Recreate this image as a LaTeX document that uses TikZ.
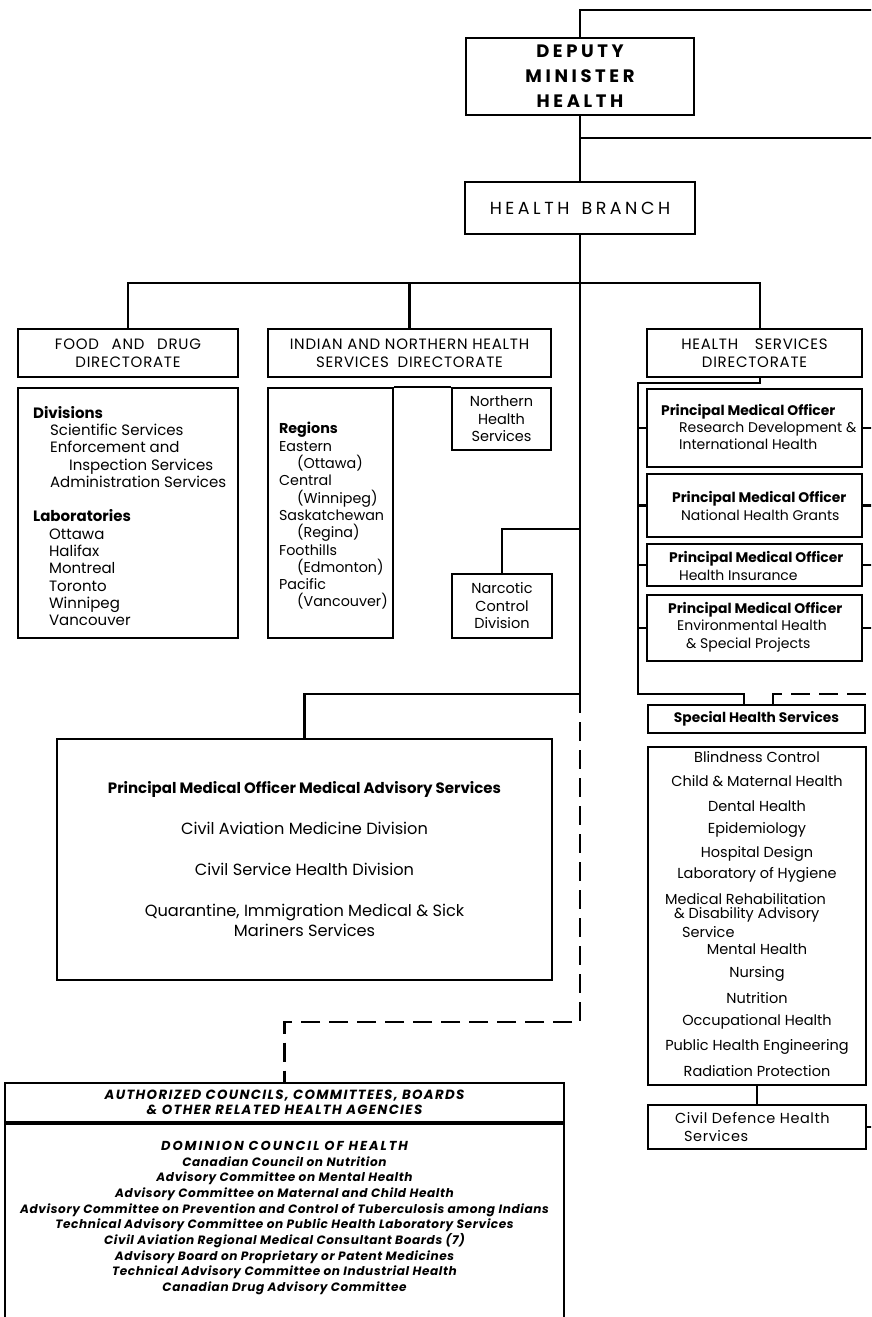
\documentclass[tikz,border=0pt]{standalone}
\usepackage{fontspec}
\setmainfont{Poppins}

\begin{document}
\begin{tikzpicture}[x=1pt,y=-1pt,line width=2.2pt,
  box/.style={draw,rectangle,inner sep=0pt,align=center},
  hdr/.style={box,font=\fontsize{15}{18}\selectfont\addfontfeature{LetterSpace=5}},
  txt/.style={inner sep=0pt,anchor=west,align=left,font=\fontsize{15}{17.3}\selectfont},
  pmotxt/.style={txt,font=\fontsize{14}{17.3}\selectfont},
  item/.style={inner sep=0pt,font=\fontsize{14.5}{17}\selectfont},
  dashline/.style={dash pattern=on 19pt off 9pt}]
  \path[use as bounding box,fill=white] (0,0) rectangle (871,1317);
  \clip (0,0) rectangle (871,1317);

  \node[box,minimum width=228,minimum height=77,font=\fontsize{18}{25}\selectfont\bfseries\addfontfeature{LetterSpace=20}] (dm) at (580,76.5) {DEPUTY\\MINISTER\\HEALTH};
  \node[box,minimum width=230,minimum height=52,font=\fontsize{17.5}{20}\selectfont\addfontfeature{LetterSpace=20}] (hb) at (580,208) {HEALTH\hspace{4pt} BRANCH};

  \node[hdr,minimum width=220,minimum height=48] (fd) at (128,353) {FOOD\hspace{8pt} AND\hspace{8pt} DRUG\\DIRECTORATE};
  \node[hdr,minimum width=283,minimum height=48] (inhs) at (409.5,353) {INDIAN AND NORTHERN HEALTH\\SERVICES\hspace{4pt} DIRECTORATE};
  \node[hdr,minimum width=215,minimum height=48] (hsd) at (754.5,353) {HEALTH\hspace{12pt} SERVICES\\DIRECTORATE};

  \node[box,minimum width=220,minimum height=250] (fdlist) at (128,513) {};
  \node[txt] (fdtxt) at (32,516)
    {\textbf{Divisions}\\\hspace*{17pt}Scientific Services\\\hspace*{17pt}Enforcement and\\\hspace*{36pt}Inspection Services\\\hspace*{17pt}Administration Services\\[17.3pt]
     \textbf{Laboratories}\\\hspace*{16pt}Ottawa\\\hspace*{16pt}Halifax\\\hspace*{16pt}Montreal\\\hspace*{16pt}Toronto\\\hspace*{16pt}Winnipeg\\\hspace*{16pt}Vancouver};
  \node[box,minimum width=125,minimum height=250] (regions) at (330.5,513) {};
  \node[txt,font=\fontsize{14.3}{17.3}\selectfont] (regtxt) at (278,516)
    {\textbf{Regions}\\Eastern\\\hspace*{18pt}(Ottawa)\\Central\\\hspace*{18pt}(Winnipeg)\\Saskatchewan\\\hspace*{18pt}(Regina)\\Foothills\\\hspace*{18pt}(Edmonton)\\Pacific\\\hspace*{18pt}(Vancouver)};
  \node[box,minimum width=99,minimum height=62,font=\fontsize{14.5}{17.5}\selectfont] (nhs) at (501.5,419) {Northern\\Health\\Services};
  \node[box,minimum width=100,minimum height=64,font=\fontsize{14.5}{17.5}\selectfont] (ncd) at (502,606) {Narcotic\\Control\\Division};

  \node[box,minimum width=215,minimum height=78] (pmo1) at (754.5,428) {};
  \node[box,minimum width=215,minimum height=63] (pmo2) at (754.5,505.5) {};
  \node[box,minimum width=215,minimum height=42] (pmo3) at (754.5,565) {};
  \node[box,minimum width=215,minimum height=66] (pmo4) at (754.5,628) {};
  \newcommand{\pmo}{{\fontsize{13.9}{17.3}\selectfont\bfseries Principal Medical Officer}}
  \node[pmotxt] (pmotxt1) at (660,427) {\pmo\\\hspace*{18pt}Research Development \&\\\hspace*{18pt}International Health};
  \node[pmotxt] (pmotxt2) at (671,506) {\pmo\\\hspace*{9pt}National Health Grants};
  \node[pmotxt] (pmotxt3) at (668,566) {\pmo\\\hspace*{10pt}Health Insurance};
  \node[pmotxt] (pmotxt4) at (667,627) {\pmo\\\hspace*{9pt}Environmental Health\\\hspace*{18pt}\& Special Projects};

  \node[box,minimum width=217,minimum height=28,font=\fontsize{13.8}{17}\selectfont\bfseries] (shs) at (756.5,719) {Special Health Services};
  \node[box,minimum width=218,minimum height=338] (shslist) at (757,916) {};
  \foreach \t/\yy [count=\i] in {Blindness Control/757,Child \& Maternal Health/781,Dental Health/806,Epidemiology/830,Hospital Design/854,Laboratory of Hygiene/875,Mental Health/949,Nursing/974,Nutrition/998,Occupational Health/1022,Public Health Engineering/1047,Radiation Protection/1071}
    \node[item] (sh\i) at (757,\yy) {\t};
  \node[item,anchor=west] (rehab1) at (664,899) {Medical Rehabilitation};
  \node[item,anchor=west] (rehab2) at (673,915) {\& Disability Advisory};
  \node[item,anchor=west] (rehab3) at (681,932) {Service};
  \node[box,minimum width=218,minimum height=44] (cdhs) at (757,1127) {};
  \node[pmotxt,font=\fontsize{14.5}{18}\selectfont\addfontfeature{LetterSpace=4}] (cdtxt) at (674,1127) {Civil Defence Health\\\hspace*{9pt}Services};

  \node[box,minimum width=495,minimum height=241,font=\fontsize{16.2}{20}\selectfont] (mas) at (304.5,859.5)
    {{\fontsize{15}{20}\selectfont\bfseries Principal Medical Officer Medical Advisory Services}\\[21pt]Civil Aviation Medicine Division\\[21pt]Civil Service Health Division\\[21pt]Quarantine, Immigration Medical \& Sick\\Mariners Services};

  \node[box,minimum width=559,minimum height=39,font=\fontsize{13.3}{15}\selectfont\bfseries\itshape\addfontfeature{LetterSpace=10}] (authh) at (284.5,1102.5)
    {AUTHORIZED COUNCILS, COMMITTEES, BOARDS\\\& OTHER RELATED HEALTH AGENCIES};
  \node[box,minimum width=559,minimum height=220,anchor=north] (authl) at (authh.south) {};
  \node[align=center,inner sep=0pt,font=\fontsize{12.1}{15.7}\selectfont\bfseries\itshape\addfontfeature{LetterSpace=5}] (authtxt) at (284.5,1218)
    {{\fontsize{13}{15.7}\selectfont\addfontfeature{LetterSpace=15}DOMINION COUNCIL OF HEALTH}\\
     Canadian Council on Nutrition\\
     Advisory Committee on Mental Health\\
     Advisory Committee on Maternal and Child Health\\
     Advisory Committee on Prevention and Control of Tuberculosis among Indians\\
     Technical Advisory Committee on Public Health Laboratory Services\\
     Civil Aviation Regional Medical Consultant Boards (7)\\
     Advisory Board on Proprietary or Patent Medicines\\
     Technical Advisory Committee on Industrial Health\\
     Canadian Drug Advisory Committee};

  \coordinate (topR) at (875,10);
  \coordinate (midR) at (875,138);
  \coordinate (bar) at (580,283);
  \coordinate (narc) at (580,529);
  \coordinate (advis) at (580,694);
  \coordinate (dashend) at (580,1022);
  \coordinate (spine) at (638,383);
  \coordinate (hsbot) at (638,694);
  \coordinate (hsdT) at ([xshift=5.5pt]hsd.north);
  \coordinate (hsdB) at ([xshift=5.5pt]hsd.south);
  \coordinate (shsL) at ([xshift=-12.5pt]shs.north);
  \coordinate (shsR) at ([xshift=16.5pt]shs.north);
  \coordinate (rdash) at (875,694);

  \draw (dm.north) |- (topR);
  \draw (dm.south) -- (hb.north);
  \draw (dm.south |- midR) -- (midR);
  \draw (hb.south) -- (advis);
  \draw (fd.north) |- (bar) -| (hsdT);
  \draw (inhs.north) -- (inhs.north |- bar);
  \draw (regions.north east) -- (nhs.north west);
  \draw (narc) -| (ncd.north);
  \draw (advis) -| (mas.north);
  \draw[dashline] (advis) -- (dashend) -| (authh.north);
  \draw (hsdB) |- (spine) -- (hsbot) -| (shsL);
  \draw[dashline] (shsR) |- (rdash);
  \foreach \p in {pmo1,pmo2,pmo3,pmo4}
    \draw (\p.west -| spine) -- (\p.west) (\p.east) -- (\p.east -| rdash);
  \draw (shslist.south) -- (cdhs.north);
  \draw (cdhs.east) -- (cdhs.east -| rdash);
\end{tikzpicture}
\end{document}
